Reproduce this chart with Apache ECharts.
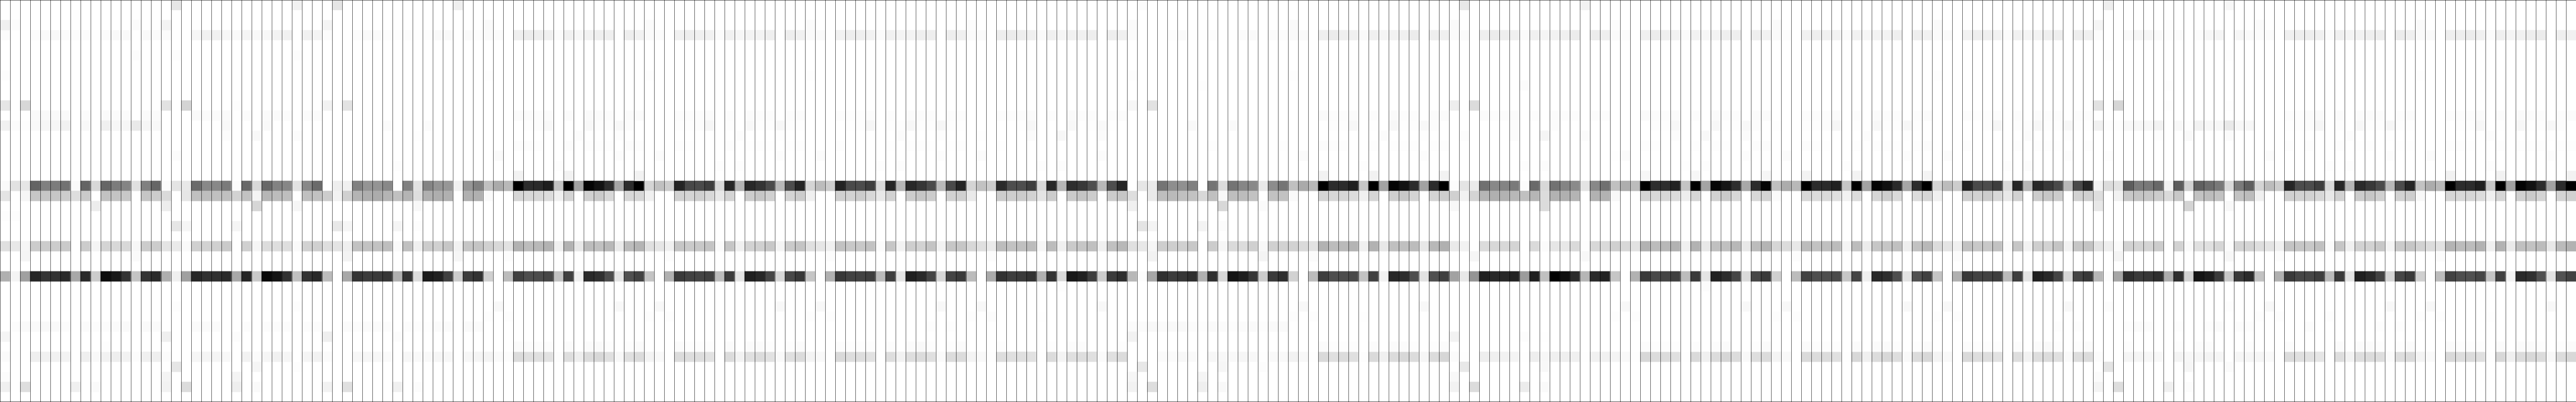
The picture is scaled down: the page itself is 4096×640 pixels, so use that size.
<!DOCTYPE html>
<html>
<head>
<meta charset="utf-8">
<style>html,body{margin:0;padding:0;background:#fff}#c{width:4096px;height:640px}</style>
<script src="https://cdn.jsdelivr.net/npm/echarts@6/dist/echarts.min.js"></script>
</head>
<body>
<div id="c"></div>
<script>
// Cell shades (0x00 = black, 0xff = white).
// Full rows: one entry per column.
const row3 = [
0xfc,0xff,0xff,0xfc,0xf9,0xf8,0xfb,0xfc,0xfc,0xfe,0xfc,0xf9,0xf9,0xff,0xf9,0xfb,0xfb,0xff,0xff,0xf6,0xf1,0xf1,0xf6,0xf9,0xf5,0xf9,0xf8,0xf3,0xf1,0xff,0xf1,0xf4,0xfb,
0xff,0xff,0xfc,0xf9,0xfa,0xfc,0xfd,0xfc,0xfe,0xfd,0xf9,0xf9,0xff,0xfa,0xfc,0xfa,0xfb,0xff,0xef,0xec,0xee,0xf0,0xfb,0xf1,0xf7,0xf2,0xef,0xef,
0xff,0xee,0xf2,0xfa,0xfb,0xff,0xf1,0xee,0xf0,0xf1,0xfb,0xf1,0xf6,0xf3,0xf3,0xef,0xff,0xee,0xf1,0xfa,0xfa,0xff,0xf2,0xee,0xef,0xf2,0xfb,0xf1,
0xf4,0xf3,0xef,0xee,0xff,0xee,0xf0,0xfa,0xfa,0xff,0xee,0xec,0xee,0xf0,0xfa,0xf0,0xf5,0xf1,0xf1,0xee,0xff,0xee,0xf0,0xfb,0xff,0xff,0xfe,0xfc,
0xfa,0xfe,0xfd,0xfc,0xfe,0xfe,0xfb,0xfa,0xff,0xfb,0xfc,0xfa,0xfa,0xff,0xef,0xec,0xef,0xf0,0xfa,0xf0,0xf5,0xf2,0xf0,0xec,0xff,0xee,0xf0,0xfb,
0xfa,0xff,0xef,0xec,0xee,0xf0,0xfb,0xf0,0xf5,0xf2,0xf0,0xec,0xff,0xec,0xef,0xfa,0xfb,0xff,0xf0,0xec,0xef,0xf2,0xfb,0xf2,0xf7,0xf3,0xef,0xee,
0xff,0xee,0xf2,0xfa,0xfc,0xff,0xf1,0xee,0xf0,0xf2,0xfb,0xf1,0xf6,0xf3,0xf3,0xef,0xff,0xee,0xf1,0xfa,0xfa,0xff,0xf2,0xee,0xef,0xf2,0xfb,0xf1,
0xf4,0xf3,0xef,0xee,0xff,0xee,0xf0,0xfc,0xff,0xff,0xfa,0xf6,0xf6,0xfa,0xfc,0xfb,0xff,0xfc,0xf7,0xf5,0xff,0xf6,0xfa,0xfb,0xfb,0xff,0xf0,0xee,
0xee,0xf0,0xfb,0xf0,0xf4,0xf2,0xef,0xee,0xff,0xec,0xf0,0xfa,0xfa,0xff,0xef,0xee,0xec,0xf0,0xfb,0xef,0xf4,0xf1,0xee,0xec,0xff,0xef,0xf1];
const row18 = [
0xfa,0xe2,0xe6,0x64,0x80,0x7c,0x72,0xfa,0x64,0xd8,0x66,0x7c,0x84,0xe0,0x80,0x66,0xfc,0xe4,0xe8,0x6a,0x88,0x88,0x7a,0xfc,0x68,0xd8,0x68,0x82,0x86,0xe2,0x88,0x6a,0xff,
0xee,0xf0,0x80,0x94,0x94,0x88,0xff,0x80,0xe2,0x84,0x94,0x96,0xf1,0x96,0x80,0xc0,0xaa,0xb8,0x00,0x2c,0x2a,0x1e,0xc2,0x00,0xa2,0x04,0x12,0x2c,
0xa6,0x2c,0x00,0xd4,0xc0,0xcc,0x24,0x48,0x4a,0x3e,0xd8,0x26,0xb4,0x28,0x34,0x4a,0xb8,0x4c,0x24,0xd4,0xbc,0xcc,0x22,0x4a,0x4c,0x3e,0xd8,0x26,
0xb6,0x28,0x36,0x4a,0xba,0x4a,0x24,0xd4,0xc2,0xcc,0x2a,0x4e,0x4e,0x3e,0xd8,0x28,0xb6,0x2e,0x38,0x4e,0xb8,0x4e,0x26,0xff,0xe6,0xea,0x74,0x8e,
0x90,0x80,0xff,0x74,0xdc,0x74,0x86,0x88,0xe8,0x8c,0x74,0xc0,0xaa,0xb8,0x00,0x2c,0x2c,0x20,0xc6,0x00,0xa2,0x04,0x12,0x2c,0xa2,0x2c,0x00,0xfd,
0xe4,0xea,0x70,0x88,0x84,0x7a,0xfc,0x6a,0xd8,0x72,0x84,0x8a,0xe4,0x88,0x70,0xc0,0xae,0xbc,0x00,0x2e,0x2e,0x22,0xc4,0x00,0xa4,0x06,0x16,0x2e,
0xa8,0x2c,0x04,0xc0,0xac,0xb8,0x00,0x2c,0x2a,0x20,0xc6,0x00,0xa2,0x04,0x10,0x2a,0xa6,0x2c,0x00,0xd4,0xbc,0xcc,0x22,0x4a,0x4c,0x3e,0xd8,0x26,
0xb6,0x28,0x38,0x4a,0xb8,0x4a,0x26,0xf2,0xdc,0xe2,0x5c,0x7a,0x78,0x68,0xf2,0x5c,0xd2,0x60,0x6c,0x78,0xd8,0x7a,0x5e,0xd4,0xbc,0xcc,0x26,0x4c,
0x4c,0x3e,0xd8,0x26,0xb4,0x2a,0x38,0x4a,0xb8,0x4c,0x26,0xc2,0xac,0xb8,0x00,0x2c,0x2c,0x20,0xc6,0x00,0xa2,0x04,0x12,0x2c,0xa2,0x2c,0x00];
const row19 = [
0xe4,0xff,0xf6,0xc6,0xc6,0xc6,0xcc,0xde,0xca,0xff,0xc2,0xc4,0xc8,0xff,0xc6,0xcc,0xda,0xff,0xe6,0xc0,0xbe,0xc0,0xc0,0xd2,0xc2,0xf4,0xb6,0xbc,0xbe,0xff,0xc0,0xc2,0xcc,
0xf2,0xd0,0xb4,0xae,0xac,0xb4,0xc0,0xb4,0xde,0xb0,0xae,0xb0,0xff,0xb0,0xb0,0xfa,0xff,0xff,0xd6,0xd8,0xd8,0xdc,0xf0,0xd4,0xff,0xd0,0xca,0xd8,
0xff,0xd8,0xd8,0xf0,0xff,0xff,0xd2,0xd4,0xd0,0xd8,0xe8,0xd4,0xff,0xcc,0xc6,0xd0,0xff,0xd4,0xcc,0xf0,0xff,0xff,0xd0,0xd2,0xcc,0xd8,0xe8,0xd2,
0xff,0xcc,0xc6,0xcc,0xff,0xd2,0xd0,0xea,0xff,0xff,0xcc,0xce,0xcc,0xd2,0xe4,0xcc,0xff,0xca,0xc4,0xcc,0xff,0xcc,0xc6,0xde,0xff,0xea,0xbe,0xba,
0xc0,0xc2,0xd8,0xc0,0xf8,0xbe,0xbc,0xc2,0xff,0xc2,0xc2,0xfa,0xff,0xff,0xd4,0xd8,0xd6,0xdc,0xf0,0xd6,0xff,0xd0,0xc8,0xd4,0xff,0xd4,0xce,0xd0,
0xf2,0xd4,0xb6,0xb0,0xb2,0xb8,0xc0,0xb6,0xdc,0xb2,0xb0,0xb4,0xff,0xb2,0xb2,0xf8,0xff,0xff,0xd4,0xd8,0xd8,0xdc,0xee,0xd6,0xff,0xd2,0xca,0xd8,
0xff,0xd8,0xd4,0xfb,0xff,0xff,0xd8,0xdc,0xda,0xe0,0xf2,0xdc,0xff,0xd6,0xce,0xda,0xff,0xdc,0xd6,0xf0,0xff,0xff,0xd0,0xd2,0xcc,0xd8,0xe8,0xd2,
0xff,0xcc,0xc6,0xcc,0xff,0xd2,0xd0,0xde,0xff,0xf2,0xc8,0xc4,0xc6,0xcc,0xda,0xc8,0xff,0xc2,0xbc,0xc2,0xff,0xc2,0xbc,0xf0,0xff,0xff,0xd0,0xd2,
0xd2,0xd8,0xe8,0xd2,0xff,0xcc,0xc6,0xd0,0xff,0xd2,0xce,0xf8,0xff,0xff,0xd6,0xd8,0xd6,0xdc,0xf0,0xd6,0xff,0xd0,0xca,0xd4,0xff,0xd4,0xd0];
const row24 = [
0xe0,0xe8,0xf6,0xcc,0xcc,0xcc,0xca,0xff,0xcc,0xf4,0xd4,0xd8,0xd8,0xf7,0xcc,0xcc,0xe4,0xea,0xfa,0xd0,0xd2,0xd0,0xca,0xff,0xd0,0xf6,0xdc,0xde,0xde,0xfa,0xd2,0xd0,0xde,
0xe4,0xef,0xc2,0xc2,0xc2,0xbe,0xfa,0xc0,0xf0,0xcc,0xd0,0xc6,0xf2,0xc6,0xc4,0xd0,0xd8,0xe2,0xb2,0xbc,0xb8,0xb2,0xf0,0xb2,0xe8,0xbc,0xc0,0xb8,
0xea,0xbc,0xb4,0xe0,0xe6,0xf0,0xc6,0xca,0xc8,0xc4,0xfb,0xc6,0xf0,0xd2,0xd0,0xc8,0xf4,0xca,0xc4,0xe0,0xe6,0xf0,0xc2,0xc8,0xc8,0xc2,0xfb,0xc6,
0xf2,0xce,0xd2,0xc4,0xf2,0xc6,0xc6,0xd8,0xe0,0xea,0xbc,0xc2,0xc0,0xbc,0xf6,0xbc,0xf0,0xca,0xc6,0xc0,0xf0,0xc0,0xb8,0xe0,0xe8,0xf6,0xce,0xce,
0xd0,0xc8,0xff,0xcc,0xf6,0xda,0xdc,0xd0,0xf8,0xd0,0xd2,0xd2,0xda,0xe2,0xb2,0xbc,0xba,0xb4,0xf0,0xb2,0xe8,0xc0,0xc0,0xbc,0xe8,0xb8,0xb0,0xea,
0xf2,0xff,0xdc,0xd8,0xd8,0xd4,0xff,0xda,0xfb,0xe6,0xe8,0xda,0xfe,0xd8,0xda,0xd0,0xd8,0xe2,0xb2,0xbc,0xb8,0xb2,0xf0,0xb2,0xe8,0xc0,0xc0,0xb8,
0xe8,0xbc,0xb4,0xd6,0xdc,0xe8,0xbc,0xc2,0xc0,0xbc,0xf4,0xbc,0xec,0xc6,0xc6,0xc0,0xee,0xc2,0xb8,0xdc,0xe4,0xf0,0xc2,0xc8,0xc8,0xc2,0xfb,0xc6,
0xf2,0xce,0xd2,0xc4,0xf2,0xc6,0xc4,0xe4,0xee,0xfb,0xd2,0xd4,0xd4,0xcc,0xff,0xd2,0xfa,0xe0,0xe0,0xd6,0xfc,0xd4,0xd4,0xde,0xe4,0xf0,0xc4,0xc6,
0xc8,0xc0,0xfb,0xc6,0xf0,0xd2,0xd2,0xc8,0xf4,0xca,0xc6,0xd2,0xdc,0xe2,0xb4,0xbc,0xbc,0xb2,0xf0,0xb2,0xea,0xc0,0xc2,0xbc,0xe8,0xba,0xb2];
const row27 = [
0xb0,0xf4,0xa0,0x26,0x34,0x32,0x2a,0xa8,0x2a,0xcc,0x0c,0x18,0x34,0xc4,0x34,0x2a,0xae,0xf0,0xa0,0x26,0x30,0x30,0x2a,0xa8,0x26,0xca,0x08,0x14,0x32,0xc0,0x32,0x28,0xbc,
0xff,0xa8,0x34,0x3c,0x3a,0x36,0xb0,0x32,0xdc,0x1a,0x20,0x40,0xcc,0x3c,0x32,0xd0,0xff,0xbc,0x40,0x4e,0x4c,0x46,0xc2,0x40,0xf0,0x2a,0x30,0x4c,
0xe4,0x50,0x42,0xc4,0xff,0xb0,0x3a,0x42,0x44,0x40,0xbc,0x3c,0xe4,0x20,0x28,0x46,0xd6,0x48,0x38,0xc6,0xff,0xb0,0x38,0x42,0x42,0x3e,0xba,0x3e,
0xe4,0x20,0x2a,0x44,0xd6,0x44,0x3a,0xbc,0xff,0xaa,0x32,0x3e,0x3a,0x32,0xb0,0x32,0xd8,0x18,0x20,0x3e,0xcc,0x3c,0x2e,0xb8,0xfc,0xa6,0x30,0x3c,
0x36,0x2e,0xb0,0x30,0xd6,0x14,0x1e,0x36,0xcc,0x3a,0x2e,0xd2,0xff,0xbc,0x3e,0x4e,0x4c,0x4a,0xc2,0x42,0xf2,0x28,0x2e,0x4e,0xe2,0x50,0x40,0xa2,
0xe8,0x94,0x20,0x28,0x28,0x24,0x9c,0x20,0xc0,0x00,0x10,0x2c,0xb6,0x2a,0x22,0xc6,0xff,0xb2,0x3a,0x48,0x44,0x40,0xbc,0x3a,0xe4,0x22,0x2c,0x46,
0xda,0x46,0x3a,0xd0,0xff,0xbc,0x42,0x4e,0x4e,0x4a,0xc6,0x44,0xf0,0x28,0x2e,0x4e,0xe2,0x50,0x40,0xc4,0xff,0xb0,0x38,0x42,0x42,0x3e,0xba,0x3e,
0xe4,0x20,0x28,0x44,0xd6,0x44,0x38,0xb6,0xfc,0xa6,0x2e,0x3a,0x36,0x2e,0xac,0x2e,0xd2,0x14,0x1c,0x3a,0xc8,0x3a,0x2c,0xc2,0xff,0xb0,0x3a,0x46,
0x46,0x3e,0xba,0x3a,0xe4,0x20,0x2a,0x42,0xd4,0x46,0x3a,0xd0,0xff,0xbc,0x42,0x4e,0x50,0x46,0xc4,0x40,0xf2,0x2a,0x30,0x50,0xe2,0x52,0x42];
const row35 = [
0xfb,0xff,0xff,0xef,0xf1,0xf1,0xf3,0xff,0xef,0xf9,0xf2,0xee,0xf2,0xfc,0xf0,0xef,0xfc,0xff,0xff,0xf6,0xf5,0xf5,0xf8,0xff,0xf2,0xfb,0xf6,0xf1,0xf6,0xff,0xf5,0xf2,0xfb,
0xff,0xff,0xf7,0xf6,0xf7,0xfa,0xff,0xf7,0xf9,0xf9,0xf6,0xf7,0xff,0xf7,0xf5,0xf4,0xfa,0xfc,0xdc,0xe0,0xe0,0xe2,0xfd,0xde,0xee,0xdc,0xd8,0xe0,
0xf8,0xe0,0xdc,0xf4,0xf9,0xff,0xdc,0xde,0xde,0xe2,0xff,0xdc,0xf2,0xe0,0xdc,0xe2,0xf9,0xe0,0xdc,0xf4,0xf9,0xff,0xda,0xde,0xde,0xe2,0xff,0xde,
0xf2,0xde,0xdc,0xe0,0xfa,0xdc,0xdc,0xf4,0xf9,0xfe,0xde,0xe0,0xe0,0xe2,0xfe,0xdc,0xf4,0xe0,0xde,0xe0,0xfa,0xe0,0xdc,0xff,0xff,0xff,0xfb,0xfb,
0xf8,0xfa,0xff,0xf7,0xf8,0xf9,0xf6,0xf8,0xfe,0xf9,0xf9,0xf2,0xf8,0xfe,0xda,0xe0,0xdc,0xe0,0xfd,0xda,0xf0,0xdc,0xd8,0xdc,0xf6,0xdc,0xd6,0xfb,
0xfe,0xff,0xee,0xf0,0xf2,0xf4,0xfe,0xee,0xf7,0xf0,0xef,0xf0,0xfe,0xf1,0xf1,0xf4,0xf9,0xfe,0xd8,0xdc,0xdc,0xe0,0xfe,0xda,0xf0,0xdc,0xd6,0xdc,
0xf9,0xde,0xdc,0xf4,0xf9,0xff,0xda,0xdc,0xdc,0xe0,0xfe,0xd8,0xf0,0xdc,0xd8,0xde,0xf9,0xdc,0xd8,0xf4,0xf9,0xff,0xda,0xde,0xde,0xe2,0xff,0xde,
0xf2,0xde,0xdc,0xe0,0xfa,0xde,0xdc,0xfc,0xff,0xff,0xf5,0xf5,0xf7,0xf8,0xff,0xf4,0xf7,0xf6,0xf4,0xf6,0xff,0xf6,0xf6,0xf6,0xfa,0xff,0xdc,0xe0,
0xe2,0xe6,0xff,0xde,0xf2,0xde,0xdc,0xde,0xfb,0xde,0xdc,0xf4,0xfa,0xff,0xda,0xde,0xdc,0xe0,0xfe,0xd8,0xf0,0xdc,0xd8,0xdc,0xf8,0xdc,0xd8];
// Sparse rows: [column, shade] pairs.
const row0 = [[17,0xe6],[29,0xf1],[33,0xe5],[45,0xef],[113,0xfb],[145,0xe8],[157,0xf2],[209,0xee],[221,0xf7]];
const row1 = [[7,0xfd],[119,0xfd]];
const row2 = [[0,0xf0],[1,0xfb],[13,0xfb],[16,0xf3],[32,0xf4],[48,0xfa],[64,0xfb],[80,0xfb],[96,0xfc],[112,0xfa],[128,0xfa],[144,0xfa],[160,0xfc],[176,0xfa],[192,0xfa],[208,0xf5],[215,0xfd],[224,0xfb],[240,0xfa]];
const row5 = [[13,0xfc],[17,0xfd],[29,0xfc],[209,0xfd],[221,0xfd]];
const row7 = [[0,0xfc],[48,0xfd],[64,0xfd],[80,0xfd],[112,0xfd],[128,0xfd],[192,0xfd],[224,0xfe],[240,0xfd]];
const row8 = [[119,0xfd],[151,0xfb],[215,0xfd]];
const row9 = [[210,0xfd]];
const row10 = [[0,0xe6],[2,0xd8],[16,0xe2],[18,0xd4],[23,0xfd],[32,0xf2],[34,0xe3],[112,0xf6],[114,0xe2],[144,0xee],[146,0xdc],[208,0xe2],[210,0xd6],[215,0xfd],[221,0xfe]];
const row11 = [[3,0xfa],[4,0xf9],[5,0xf9],[6,0xf9],[8,0xfb],[10,0xfa],[11,0xfb],[12,0xfb],[14,0xfb],[15,0xfb],[19,0xfa],[20,0xfb],[21,0xfb],[22,0xfa],[24,0xfb],[26,0xfb],[27,0xfa],[28,0xfb],[30,0xfb],[31,0xfb],[51,0xfb],[52,0xfb],[53,0xfc],[54,0xfb],[56,0xfb],[58,0xfa],[59,0xfb],[60,0xfc],[62,0xfb],[63,0xfb],[67,0xfc],[68,0xfc],[69,0xfc],[70,0xfb],[72,0xfc],[74,0xfb],[75,0xfc],[76,0xfc],[78,0xfc],[79,0xfb],[83,0xfc],[84,0xfd],[85,0xfd],[86,0xfc],[88,0xfc],[90,0xfb],[91,0xfb],[92,0xfc],[94,0xfc],[95,0xfc],[99,0xfc],[100,0xfc],[101,0xfc],[102,0xfb],[104,0xfc],[106,0xfa],[107,0xfc],[108,0xfc],[110,0xfc],[111,0xfb],[131,0xfa],[132,0xfc],[133,0xfc],[134,0xfb],[136,0xfb],[138,0xfa],[139,0xfc],[140,0xfc],[142,0xfb],[143,0xfb],[147,0xfb],[148,0xfc],[149,0xfc],[150,0xfb],[152,0xfc],[154,0xfb],[155,0xfc],[156,0xfc],[158,0xfc],[159,0xfc],[163,0xfb],[164,0xfc],[165,0xfc],[166,0xfb],[168,0xfc],[170,0xfb],[171,0xfc],[172,0xfc],[174,0xfb],[175,0xfb],[179,0xfc],[180,0xfc],[181,0xfc],[182,0xfb],[184,0xfc],[186,0xfb],[187,0xfc],[188,0xfc],[190,0xfc],[191,0xfb],[195,0xfc],[196,0xfd],[197,0xfd],[198,0xfc],[200,0xfc],[202,0xfb],[203,0xfc],[204,0xfc],[206,0xfc],[207,0xfc],[227,0xfc],[228,0xfd],[229,0xfb],[230,0xfa],[232,0xfb],[234,0xfb],[235,0xfb],[236,0xfc],[238,0xfc],[239,0xfb],[243,0xfc],[244,0xfc],[245,0xfc],[246,0xfb],[248,0xfb],[250,0xfa],[251,0xfb],[252,0xfc],[254,0xfc],[255,0xfb]];
const row12 = [[0,0xf1],[1,0xfc],[2,0xfd],[3,0xf9],[4,0xf6],[5,0xf6],[6,0xf1],[8,0xf8],[10,0xf0],[11,0xf6],[12,0xf6],[13,0xe9],[14,0xf5],[15,0xf8],[22,0xf8],[26,0xf9],[38,0xfb],[42,0xfb],[52,0xfd],[53,0xfc],[54,0xf8],[58,0xf8],[59,0xfd],[60,0xfd],[61,0xf8],[62,0xfc],[67,0xfd],[68,0xfd],[69,0xfc],[70,0xf6],[72,0xfd],[74,0xf8],[75,0xfd],[76,0xfd],[77,0xf7],[78,0xfd],[79,0xfe],[84,0xfe],[85,0xfd],[86,0xf6],[88,0xfd],[89,0xfd],[90,0xf7],[91,0xfd],[92,0xfd],[93,0xf6],[94,0xfd],[95,0xfe],[101,0xfe],[102,0xf7],[106,0xf8],[108,0xfe],[109,0xf9],[110,0xfe],[118,0xf9],[122,0xfa],[132,0xfd],[133,0xfd],[134,0xf7],[136,0xfe],[138,0xf7],[139,0xfe],[140,0xfd],[141,0xf8],[142,0xfc],[150,0xfb],[154,0xfc],[164,0xfd],[165,0xfd],[166,0xf7],[170,0xf7],[171,0xfe],[172,0xfd],[173,0xf8],[174,0xfc],[176,0xfe],[179,0xfd],[180,0xfd],[181,0xfc],[182,0xf6],[184,0xfd],[186,0xf7],[187,0xfd],[188,0xfd],[189,0xf7],[190,0xfd],[197,0xfd],[198,0xf6],[200,0xfd],[201,0xfd],[202,0xf7],[203,0xfd],[204,0xfd],[205,0xf7],[206,0xfd],[207,0xfe],[208,0xf1],[209,0xfd],[210,0xfd],[211,0xf8],[212,0xf7],[213,0xf7],[214,0xf2],[216,0xf8],[217,0xfd],[218,0xf2],[219,0xf7],[220,0xf7],[221,0xe9],[222,0xf7],[223,0xf7],[227,0xfe],[228,0xfd],[229,0xfc],[230,0xf6],[232,0xfd],[234,0xf7],[235,0xfd],[236,0xfd],[237,0xf6],[238,0xfd],[239,0xfe],[244,0xfd],[245,0xfd],[246,0xf7],[248,0xfe],[250,0xf7],[251,0xfe],[252,0xfd],[253,0xf7],[254,0xfc]];
const row13 = [[22,0xfc],[25,0xf8],[29,0xfb],[41,0xfe],[57,0xfc],[61,0xfd],[73,0xfc],[77,0xfe],[89,0xfb],[93,0xfd],[97,0xfe],[102,0xfb],[105,0xf7],[109,0xfb],[137,0xfb],[141,0xfe],[145,0xfc],[150,0xfb],[153,0xf5],[157,0xfb],[166,0xfc],[169,0xf8],[173,0xfb],[185,0xfc],[189,0xfe],[201,0xfb],[205,0xfd],[214,0xfd],[217,0xf9],[221,0xfb],[233,0xfc],[237,0xfe],[247,0xfc],[253,0xfe]];
const row14 = [[51,0xfc],[52,0xfc],[53,0xfd],[56,0xfc],[58,0xfd],[59,0xfd],[60,0xfd],[62,0xfc],[63,0xfd],[67,0xfd],[68,0xfe],[72,0xfd],[74,0xfe],[75,0xfd],[76,0xfe],[78,0xfe],[79,0xfd],[83,0xfd],[88,0xfe],[90,0xfd],[91,0xfd],[92,0xfe],[94,0xfe],[95,0xfd],[99,0xfe],[120,0xfd],[127,0xfe],[131,0xfc],[132,0xfd],[133,0xfd],[136,0xfd],[138,0xfd],[139,0xfd],[140,0xfd],[142,0xfd],[143,0xfd],[163,0xfd],[164,0xfe],[168,0xfd],[170,0xfd],[171,0xfe],[174,0xfc],[175,0xfc],[179,0xfc],[180,0xfd],[181,0xfe],[184,0xfd],[186,0xfd],[187,0xfd],[188,0xfe],[190,0xfd],[191,0xfc],[195,0xfd],[200,0xfd],[202,0xfd],[203,0xfd],[204,0xfe],[207,0xfd],[227,0xfd],[229,0xfd],[232,0xfd],[234,0xfe],[235,0xfd],[238,0xfe],[239,0xfe],[243,0xfd],[244,0xfd],[245,0xfe],[248,0xfd],[250,0xfd],[251,0xfd],[252,0xfd],[254,0xfd],[255,0xfd]];
const row15 = [[17,0xfc],[49,0xfa],[61,0xfc],[65,0xfb],[77,0xfc],[81,0xfb],[93,0xfc],[97,0xfb],[109,0xfb],[129,0xfa],[141,0xfc],[160,0xfe],[161,0xfb],[173,0xfc],[177,0xfb],[189,0xfc],[193,0xfb],[205,0xfc],[209,0xfd],[225,0xfb],[237,0xfc],[241,0xfb],[253,0xfc]];
const row16 = [[39,0xfd],[55,0xfd],[71,0xfd],[73,0xfd],[87,0xfd],[89,0xfc],[103,0xfd],[105,0xfc],[135,0xfd],[151,0xfd],[153,0xfc],[167,0xfe],[169,0xfd],[183,0xfd],[199,0xfd],[201,0xfc],[231,0xfd],[233,0xfd],[247,0xfd]];
const row17 = [[51,0xf2],[56,0xf2],[63,0xf2],[131,0xf2],[136,0xf2],[143,0xf2],[163,0xf7],[168,0xf7],[175,0xf6],[179,0xf3],[184,0xf3],[191,0xf4],[243,0xf2],[248,0xf2],[255,0xf2]];
const row20 = [[9,0xed],[16,0xed],[25,0xd6],[29,0xf6],[41,0xf8],[112,0xf0],[121,0xd8],[125,0xfb],[144,0xf8],[153,0xdc],[208,0xe8],[217,0xd4],[221,0xf8]];
const row21 = [[0,0xfd],[1,0xfd]];
const row22 = [[17,0xe6],[18,0xf6],[23,0xf5],[33,0xe8],[34,0xf6],[39,0xf5],[41,0xfd],[113,0xe4],[114,0xf4],[119,0xf3],[121,0xfc]];
const row25 = [[2,0xf5],[13,0xfa],[34,0xf3],[45,0xf6],[50,0xfc],[66,0xfc],[82,0xfc],[98,0xfc],[114,0xf2],[125,0xf4],[130,0xfb],[146,0xf6],[157,0xf8],[178,0xfc],[194,0xfc],[210,0xf4],[221,0xf7],[226,0xfc],[242,0xfb]];
const row28 = [[105,0xfd],[169,0xfc]];
const row30 = [[17,0xfd],[29,0xfd],[49,0xf8],[61,0xf8],[65,0xf8],[77,0xf8],[81,0xf8],[93,0xf8],[97,0xf8],[109,0xf8],[129,0xf8],[141,0xf8],[161,0xf8],[173,0xf8],[177,0xf8],[189,0xf8],[193,0xf8],[205,0xf8],[209,0xfc],[221,0xfd],[225,0xf8],[237,0xf8],[241,0xf8],[253,0xf8]];
const row31 = [[48,0xfd],[50,0xfd],[64,0xfd],[66,0xfd],[80,0xfd],[82,0xfd],[96,0xfd],[98,0xfc],[103,0xfe],[128,0xfd],[130,0xfd],[135,0xfe],[160,0xfd],[162,0xfd],[176,0xfd],[178,0xfd],[192,0xfd],[194,0xfd],[224,0xfd],[226,0xfd],[231,0xfd],[240,0xfd],[242,0xfd],[247,0xfe]];
const row32 = [[1,0xfc],[2,0xfa],[3,0xfa],[4,0xf9],[5,0xf9],[6,0xfc],[8,0xfb],[9,0xfc],[10,0xfc],[11,0xfb],[12,0xfa],[14,0xfa],[15,0xfb],[19,0xfb],[20,0xfb],[21,0xfb],[24,0xfc],[26,0xfc],[27,0xfc],[28,0xfc],[30,0xfc],[31,0xfc],[34,0xfb],[35,0xfc],[36,0xfb],[37,0xfb],[38,0xfc],[40,0xfc],[41,0xfd],[42,0xfe],[43,0xfb],[44,0xfb],[46,0xfa],[47,0xfb],[92,0xfd],[94,0xfd],[112,0xfb],[113,0xfb],[114,0xf8],[115,0xfb],[116,0xf9],[117,0xf9],[118,0xfc],[119,0xfd],[120,0xfa],[121,0xfb],[122,0xfd],[123,0xfb],[124,0xfa],[125,0xfd],[126,0xfa],[127,0xfa],[204,0xfd],[206,0xfd],[211,0xfd],[212,0xfb],[213,0xfc],[216,0xfd],[219,0xfd],[220,0xfb],[222,0xfc],[223,0xfd],[229,0xfc],[236,0xfd],[238,0xfd]];
const row33 = [[0,0xf5],[16,0xef],[23,0xfc],[32,0xef],[39,0xfc],[112,0xf2],[144,0xf2],[151,0xfc],[153,0xfe]];
const row34 = [[10,0xfd],[51,0xfb],[52,0xfc],[53,0xfc],[54,0xfc],[56,0xfb],[58,0xfb],[59,0xfa],[60,0xfd],[62,0xfd],[63,0xfb],[67,0xfb],[68,0xfd],[69,0xfd],[70,0xfd],[72,0xfb],[74,0xfb],[75,0xfb],[76,0xfd],[78,0xfd],[79,0xfb],[83,0xfc],[84,0xfd],[85,0xfd],[86,0xfd],[88,0xfc],[90,0xfb],[91,0xf9],[92,0xfd],[94,0xfd],[95,0xfb],[99,0xfd],[104,0xfd],[106,0xfc],[107,0xfc],[111,0xfd],[131,0xfb],[132,0xfd],[133,0xfd],[134,0xfd],[136,0xfb],[138,0xfb],[139,0xfb],[140,0xfd],[142,0xfd],[143,0xfb],[163,0xfc],[164,0xfd],[165,0xfd],[166,0xfd],[168,0xfc],[170,0xfc],[171,0xfb],[174,0xfd],[175,0xfb],[179,0xfb],[180,0xfd],[181,0xfd],[182,0xfd],[184,0xfb],[186,0xfb],[187,0xfb],[188,0xfd],[190,0xfd],[191,0xfb],[195,0xfc],[196,0xfd],[197,0xfd],[198,0xfd],[200,0xfc],[202,0xfb],[203,0xf9],[204,0xfd],[206,0xfd],[207,0xfb],[211,0xfd],[216,0xfd],[218,0xfc],[219,0xfc],[223,0xfd],[227,0xfc],[232,0xfb],[234,0xfb],[235,0xfb],[236,0xfd],[238,0xfd],[239,0xfb],[243,0xfb],[244,0xfd],[245,0xfd],[246,0xfd],[248,0xfb],[250,0xfb],[251,0xfb],[252,0xfd],[254,0xfd],[255,0xfb]];
const row36 = [[17,0xe6],[25,0xf5],[29,0xfd],[113,0xe8],[121,0xf6],[125,0xfc],[145,0xe8],[153,0xf8],[209,0xe4],[217,0xf6],[221,0xfb]];
const row37 = [[0,0xfc],[16,0xf4],[23,0xf4],[112,0xf6],[119,0xf5],[144,0xf8],[208,0xfb]];
const row38 = [[0,0xf0],[2,0xde],[7,0xf0],[9,0xfa],[16,0xf2],[18,0xdc],[23,0xee],[25,0xfa],[32,0xf2],[34,0xe0],[39,0xf0],[41,0xfc],[112,0xf2],[114,0xde],[119,0xef],[121,0xf9],[144,0xf2],[146,0xdc],[151,0xec],[153,0xfa],[208,0xf4],[210,0xde],[215,0xf0],[217,0xfc]];

const COLUMNS = 256, ROWS = 40;
const columnNames = Array.from({length: COLUMNS}, (_, i) => String(i));
const rowNames = Array.from({length: ROWS}, (_, i) => String(i));
const fullRows = {3: row3, 18: row18, 19: row19, 24: row24, 27: row27, 35: row35};
const sparseRows = {0: row0, 1: row1, 2: row2, 5: row5, 7: row7, 8: row8, 9: row9, 10: row10, 11: row11, 12: row12, 13: row13, 14: row14, 15: row15, 16: row16, 17: row17, 20: row20, 21: row21, 22: row22, 25: row25, 28: row28, 30: row30, 31: row31, 32: row32, 33: row33, 34: row34, 36: row36, 37: row37, 38: row38};

const cells = [];
for (const r in fullRows) fullRows[r].forEach((v, c) => { if (v < 0xff) cells.push([c, +r, v]); });
for (const r in sparseRows) sparseRows[r].forEach(([c, v]) => cells.push([c, +r, v]));

const LINE = 0.533;
const hiddenXAxis = {
  type: 'category', data: columnNames, z: 10,
  axisLabel: {show: false}, axisTick: {show: false},
  axisLine: {show: true, onZero: false, lineStyle: {color: '#000', width: LINE}}
};
const chart = echarts.init(document.getElementById('c'), null, {renderer: 'canvas'});
chart.setOption({
  animation: false,
  backgroundColor: '#fff',
  grid: {left: 0, right: 0, top: 0, bottom: 0, containLabel: false},
  xAxis: [
    Object.assign({}, hiddenXAxis, {position: 'top', splitLine: {show: true, interval: 0, lineStyle: {color: '#000', width: LINE}}}),
    Object.assign({}, hiddenXAxis, {position: 'bottom', offset: -1, splitLine: {show: false}})
  ],
  yAxis: {
    type: 'category', data: rowNames, inverse: true,
    axisLabel: {show: false}, axisTick: {show: false}, axisLine: {show: false}, splitLine: {show: false}
  },
  visualMap: {show: false, min: 0, max: 255, dimension: 2, inRange: {color: ['#000000', '#ffffff']}},
  series: [{type: 'heatmap', data: cells, progressive: 0, emphasis: {disabled: true}}]
});
</script>
</body>
</html>
